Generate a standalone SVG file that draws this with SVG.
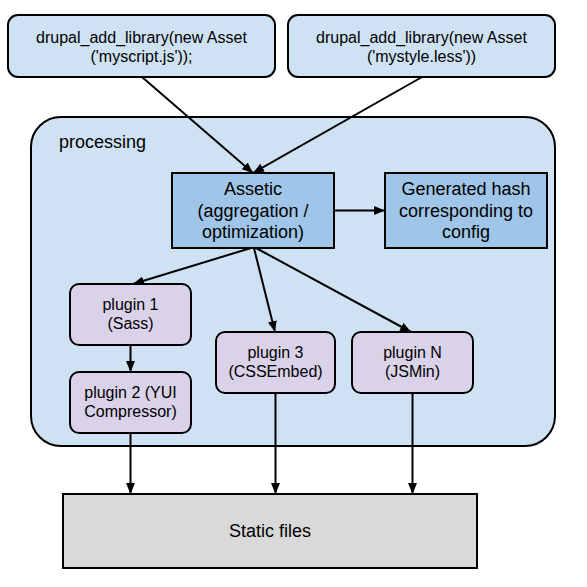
<svg xmlns="http://www.w3.org/2000/svg" width="587" height="587" viewBox="0 0 587 587">
<defs>
<marker id="ah" markerUnits="userSpaceOnUse" markerWidth="12" markerHeight="10" refX="11" refY="5" orient="auto">
<path d="M0,0.5 L11,5 L0,9.5 z" fill="#000"/>
</marker>
<style>
.t{font-family:"Liberation Sans",Arial,sans-serif;fill:#000;text-anchor:middle}
.s16{font-size:16px}
.s18{font-size:18px}
.bx{stroke:#000;stroke-width:2}
.top{fill:#cfe2f3}
.proc{fill:#cfe2f3}
.core{fill:#9fc5e8}
.plug{fill:#d9d2e9}
.stat{fill:#d9d9d9}
.c{stroke:#000;stroke-width:2;fill:none;marker-end:url(#ah)}
</style>
</defs>
<rect width="587" height="587" fill="#fff"/>
<g id="processing">
<rect class="bx proc" x="31" y="117" width="524" height="329" rx="30"/>
<text class="t s18" x="59" y="148" style="text-anchor:start">processing</text>
</g>
<g id="src-js">
<rect class="bx top" x="8" y="15" width="267" height="62" rx="10"/>
<text class="t s16" x="141.5" y="43">drupal_add_library(new Asset</text>
<text class="t s16" x="141.5" y="62">('myscript.js'));</text>
</g>
<g id="src-less">
<rect class="bx top" x="288" y="15" width="267" height="62" rx="10"/>
<text class="t s16" x="421.5" y="43">drupal_add_library(new Asset</text>
<text class="t s16" x="421.5" y="62">('mystyle.less'))</text>
</g>
<g id="assetic">
<rect class="bx core" x="172" y="173" width="162" height="75"/>
<text class="t s18" x="253" y="195">Assetic</text>
<text class="t s18" x="253" y="217">(aggregation /</text>
<text class="t s18" x="253" y="238">optimization)</text>
</g>
<g id="hash">
<rect class="bx core" x="385" y="173" width="162" height="75"/>
<text class="t s18" x="466" y="195">Generated hash</text>
<text class="t s18" x="466" y="217">corresponding to</text>
<text class="t s18" x="466" y="238">config</text>
</g>
<g id="plugin1">
<rect class="bx plug" x="70" y="284" width="121" height="61" rx="9"/>
<text class="t s16" x="130.5" y="310">plugin 1</text>
<text class="t s16" x="130.5" y="328.5">(Sass)</text>
</g>
<g id="plugin2">
<rect class="bx plug" x="70" y="372" width="121" height="61" rx="9"/>
<text class="t s16" x="130.5" y="398">plugin 2 (YUI</text>
<text class="t s16" x="130.5" y="416.5">Compressor)</text>
</g>
<g id="plugin3">
<rect class="bx plug" x="216" y="332" width="119" height="61" rx="9"/>
<text class="t s16" x="275.5" y="358">plugin 3</text>
<text class="t s16" x="275.5" y="376.5">(CSSEmbed)</text>
</g>
<g id="pluginN">
<rect class="bx plug" x="352" y="332" width="121" height="61" rx="9"/>
<text class="t s16" x="412.5" y="358">plugin N</text>
<text class="t s16" x="412.5" y="376.5">(JSMin)</text>
</g>
<g id="static">
<rect class="bx stat" x="63" y="494" width="414" height="74"/>
<text class="t s18" x="270" y="537">Static files</text>
</g>
<g id="connectors">
<path class="c" d="M142,77 L253,173"/>
<path class="c" d="M422,77 L253,173"/>
<path class="c" d="M334,210.5 L385,210.5"/>
<path class="c" d="M251,248 L133,284"/>
<path class="c" d="M254,248 L275,332"/>
<path class="c" d="M256,248 L411,332"/>
<path class="c" d="M130.5,345 L130.5,372"/>
<path class="c" d="M130.5,433 L130.5,494"/>
<path class="c" d="M275.5,393 L275.5,494"/>
<path class="c" d="M412.5,393 L412.5,494"/>
</g>
</svg>
